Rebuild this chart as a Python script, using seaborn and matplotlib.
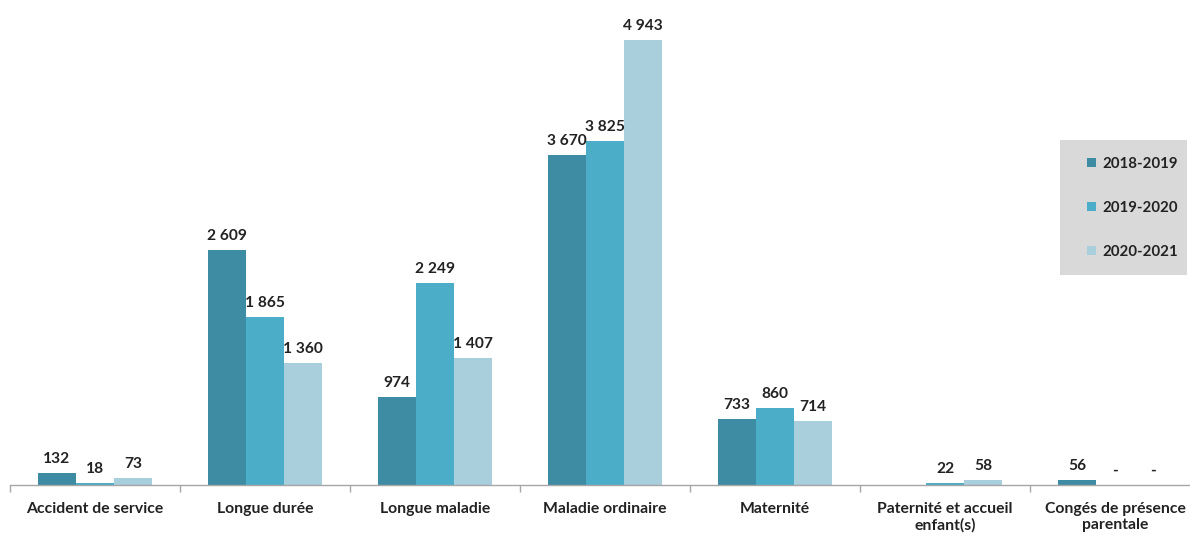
import numpy as np
import pandas as pd
import matplotlib
matplotlib.use("Agg")
import matplotlib.pyplot as plt
from matplotlib.patches import Rectangle
from matplotlib.ticker import FixedLocator
import seaborn as sns

categories = [
    "Accident de service",
    "Longue durée",
    "Longue maladie",
    "Maladie ordinaire",
    "Maternité",
    "Paternité et accueil\nenfant(s)",
    "Congés de présence\nparentale",
]
periods = ["2018-2019", "2019-2020", "2020-2021"]
v_2018_2019 = [132, 2609, 974, 3670, 733, np.nan, 56]
v_2019_2020 = [18, 1865, 2249, 3825, 860, 22, 0]
v_2020_2021 = [73, 1360, 1407, 4943, 714, 58, 0]
colors = ["#3d8ca3", "#4badc7", "#a9cfdd"]

rows = []
for period, vals in zip(periods, [v_2018_2019, v_2019_2020, v_2020_2021]):
    for cat, v in zip(categories, vals):
        rows.append({"categorie": cat, "periode": period, "effectif": v})
df = pd.DataFrame(rows)

sns.set_theme(style="white")
plt.rcParams["font.family"] = ["Lato", "DejaVu Sans"]

W, H = 1190, 536
fig = plt.figure(figsize=(W / 100, H / 100), dpi=100)
ax = fig.add_axes([10 / W, 51 / H, 1180 / W, 485 / H])

sns.barplot(
    data=df, x="categorie", y="effectif", hue="periode",
    order=categories, hue_order=periods, palette=colors,
    width=0.67, gap=0, saturation=1, errorbar=None, ax=ax,
    edgecolor="none", linewidth=0,
)


def fmt_label(v):
    if np.isnan(v):
        return ""
    if v == 0:
        return "-"
    return f"{int(round(v)):,}".replace(",", " ")


for cont in ax.containers:
    ax.bar_label(cont, fmt=fmt_label, padding=5, fontsize=11.2,
                 fontweight="bold", color="#222222")

ax.set_xlim(-0.5, 6.44)
ax.set_ylim(0, 5387)
ax.set_xlabel("")
ax.set_ylabel("")
ax.set_yticks([])
for side in ["top", "right", "left"]:
    ax.spines[side].set_visible(False)
ax.spines["bottom"].set_color("#a6a6a6")
ax.spines["bottom"].set_linewidth(1.0)

ax.tick_params(axis="x", which="major", length=0, pad=12,
               labelsize=11.3, labelcolor="#222222")
for lab in ax.get_xticklabels():
    lab.set_fontweight("bold")
ax.xaxis.set_minor_locator(FixedLocator(np.arange(-0.5, 7, 1.0)))
ax.tick_params(axis="x", which="minor", bottom=True, length=5,
               width=1, color="#a6a6a6", direction="out")

# legend: grey panel on the right with the three periods
handles, labels = ax.get_legend_handles_labels()
ax.get_legend().remove()
fig.add_artist(Rectangle((1060 / W, 1 - 275 / H), 127 / W, 135 / H,
                         transform=fig.transFigure, facecolor="#d9d9d9",
                         edgecolor="none", zorder=2))
leg = fig.legend(
    handles, labels, loc="upper left",
    bbox_to_anchor=(1087 / W, 1 - 157 / H), bbox_transform=fig.transFigure,
    frameon=False, handlelength=0.6, handleheight=0.6, handletextpad=0.4,
    labelspacing=2.0, borderpad=0, borderaxespad=0,
    prop={"size": 10.8, "weight": "bold"},
)
leg.set_zorder(3)
for t in leg.get_texts():
    t.set_color("#222222")

fig.savefig("out.png", dpi=100)
